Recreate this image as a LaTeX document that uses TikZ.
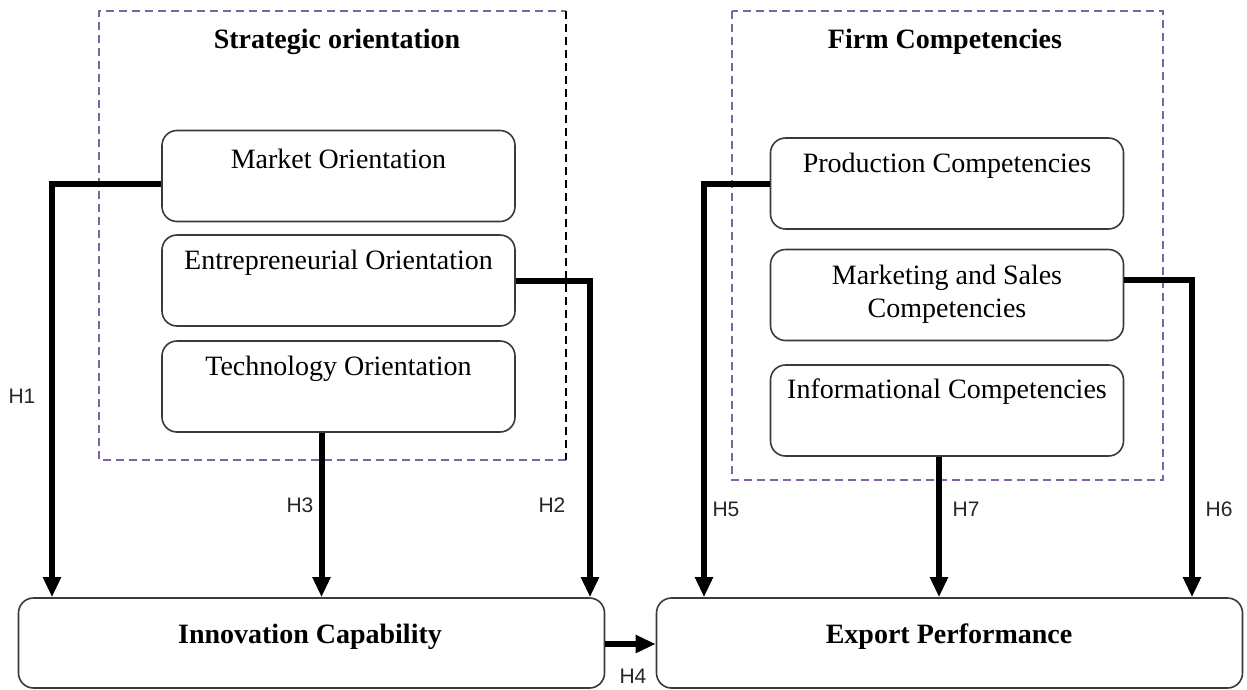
\documentclass[tikz,border=0pt]{standalone}
\usepackage{fontspec}
\setmainfont{Liberation Serif}
\newfontfamily\hfont{Liberation Sans}
\usetikzlibrary{arrows.meta,calc}
\definecolor{dpurple}{HTML}{8064A2}
\definecolor{bordergray}{HTML}{3A3A3A}
\tikzset{
  boxnode/.style={draw=bordergray, line width=1.6pt, rounded corners=15pt, rectangle, inner sep=0pt},
  smallbox/.style={boxnode, minimum width=353pt, minimum height=91pt},
  bigbox/.style={boxnode, minimum width=586pt, minimum height=90pt},
  boxtext/.style={font=\fontsize{28}{33}\selectfont, align=center, inner sep=0pt},
  titletext/.style={font=\fontsize{28}{33}\selectfont\bfseries, inner sep=0pt},
  bottomtext/.style={font=\fontsize{28}{33}\selectfont\bfseries, inner sep=0pt, anchor=base},
  hlabel/.style={font=\hfont\fontsize{21}{24}\selectfont, text=black!85, inner sep=0pt},
  arr/.style={line width=6pt, -{Triangle[width=17pt,length=20pt]}},
  dashpurple/.style={draw=dpurple, line width=1.5pt, dash pattern=on 8pt off 5pt},
  dashblack/.style={draw=black, line width=1.5pt, dash pattern=on 8pt off 5pt},
}
\begin{document}
\begin{tikzpicture}[x=1pt,y=-1pt]
\useasboundingbox (0,0) rectangle (1247,689);
% dashed group boxes
\draw[dashpurple] (566,460) -- (99,460) -- (99,11) -- (566,11);
\draw[dashblack] (566,11) -- (566,460);
\draw[dashpurple] (732,11) rectangle (1163,480);
\node[titletext] (t1) at (337,42) {Strategic orientation};
\node[titletext] (t2) at (945,42) {Firm Competencies};
% left boxes
\node[smallbox] (mo) at (338.5,176) {};
\node[smallbox] (eo) at (338.5,280.5) {};
\node[smallbox] (to) at (338.5,386.5) {};
\node[boxtext] (mot) at (338.5,159) {Market Orientation};
\node[boxtext] (eot) at (338.5,263) {Entrepreneurial Orientation};
\node[boxtext] (tot) at (338.5,369) {Technology Orientation};
% right boxes
\node[smallbox] (pc) at (947,183.5) {};
\node[smallbox] (ms) at (947,295) {};
\node[smallbox] (ic2) at (947,410.5) {};
\node[boxtext] (pct) at (947,166) {Production Competencies};
\node[boxtext] (mst) at (947,294) {Marketing and Sales\\Competencies};
\node[boxtext] (ict) at (947,392) {Informational Competencies};
% bottom boxes
\node[bigbox] (ic) at (311.5,643) {};
\node[bigbox] (ep) at (949.5,643) {};
\node[bottomtext] (ict2) at (310,643) {Innovation Capability};
\node[bottomtext] (ept) at (949,643) {Export Performance};
% connectors
\coordinate (h1s) at ([yshift=-8pt]mo.west);
\draw[arr] (h1s) -| ([xshift=-259.5pt]ic.north);
\draw[arr] (eo.east) -| ([xshift=278.5pt]ic.north);
\coordinate (h3s) at ([xshift=-17pt]to.south);
\draw[arr] (h3s) -- (h3s |- ic.north);
\draw[arr] (ic.east |- 0,644) -- (ep.west |- 0,644);
\draw[arr] (pc.west) -| ([xshift=-245.5pt]ep.north);
\coordinate (h6s) at ([yshift=15pt]ms.east);
\draw[arr] (h6s) -| ([xshift=242.5pt]ep.north);
\coordinate (h7s) at ([xshift=-8pt]ic2.south);
\draw[arr] (h7s) -- (h7s |- ep.north);
% hypothesis labels
\node[hlabel] (H1) at (22,396) {H1};
\node[hlabel] (H2) at (552,505) {H2};
\node[hlabel] (H3) at (300,505) {H3};
\node[hlabel] (H4) at (633,676) {H4};
\node[hlabel] (H5) at (726,509) {H5};
\node[hlabel] (H6) at (1219,509) {H6};
\node[hlabel] (H7) at (966,509) {H7};
\end{tikzpicture}
\end{document}
